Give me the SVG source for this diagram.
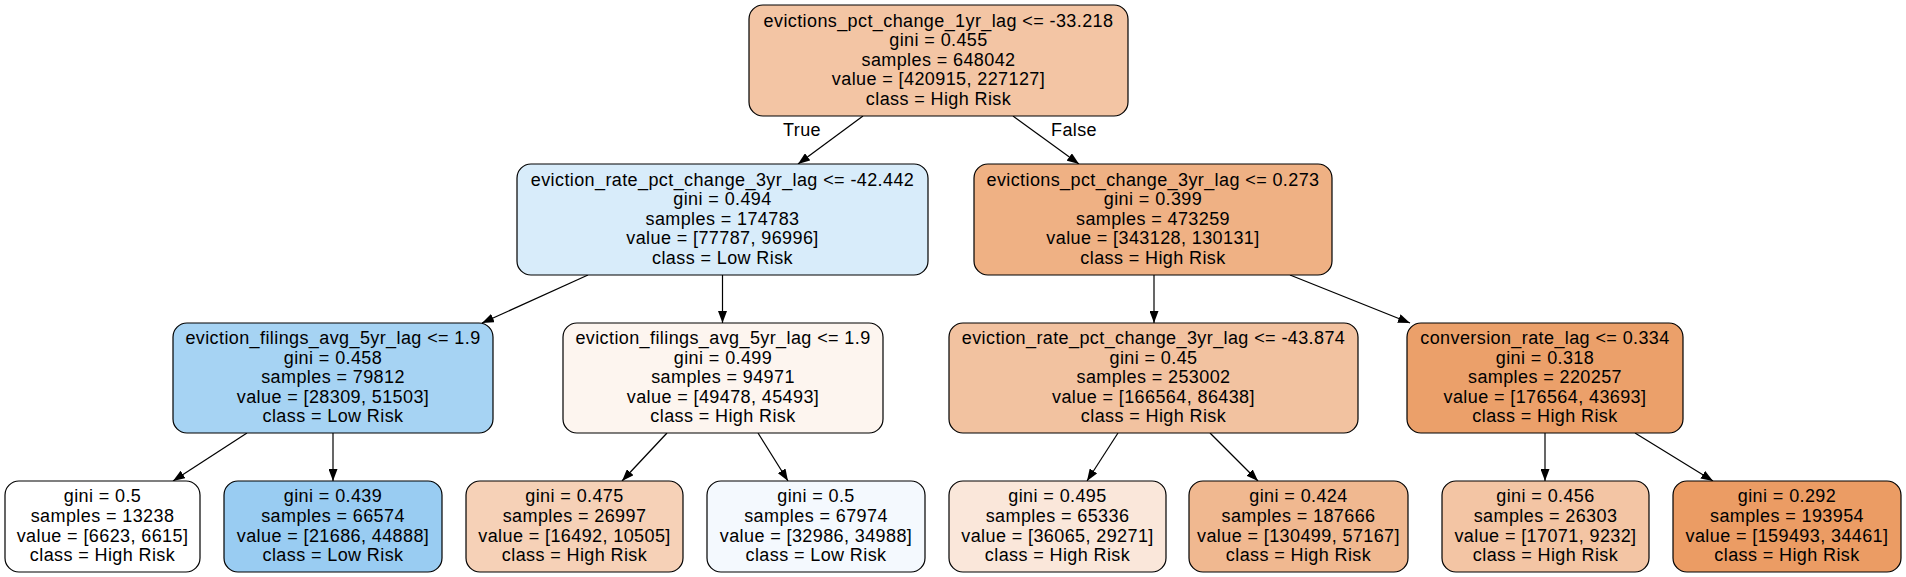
<svg xmlns="http://www.w3.org/2000/svg" width="1906" height="577" viewBox="0 0 1906 577">
<style>
  .box { stroke: #000; stroke-width: 1.2; }
  text { font-family: "Liberation Sans", Arial, sans-serif; font-size: 18px; letter-spacing: 0.4px; fill: #000; text-anchor: middle; }
  .edge { stroke: #000; stroke-width: 1.2; fill: none; marker-end: url(#arr); }
</style>
<defs>
  <marker id="arr" viewBox="0 0 12 9" refX="12" refY="4.5" markerWidth="12" markerHeight="9" orient="auto" markerUnits="userSpaceOnUse">
    <path d="M0,0 L12,4.5 L0,9 z" fill="#000"/>
  </marker>
</defs>
<rect width="1906" height="577" fill="#fff"/>

<g id="edges">
  <line class="edge" x1="863" y1="116" x2="798" y2="164"/>
  <line class="edge" x1="1013" y1="116" x2="1079" y2="164"/>
  <line class="edge" x1="588" y1="275" x2="482" y2="323"/>
  <line class="edge" x1="722.5" y1="275" x2="722.5" y2="323"/>
  <line class="edge" x1="1154" y1="275" x2="1154" y2="323"/>
  <line class="edge" x1="1290" y1="275" x2="1410" y2="323"/>
  <line class="edge" x1="247" y1="433" x2="173" y2="481"/>
  <line class="edge" x1="333" y1="433" x2="333" y2="481"/>
  <line class="edge" x1="667" y1="433" x2="622" y2="481"/>
  <line class="edge" x1="758" y1="433" x2="788" y2="481"/>
  <line class="edge" x1="1118" y1="433" x2="1087" y2="481"/>
  <line class="edge" x1="1210" y1="433" x2="1258" y2="481"/>
  <line class="edge" x1="1545" y1="433" x2="1545" y2="481"/>
  <line class="edge" x1="1635" y1="433" x2="1713" y2="481"/>
  <text x="802" y="136">True</text>
  <text x="1074" y="136">False</text>
</g>

<g id="n0">
  <rect class="box" x="749" y="5" width="379" height="111" rx="14" fill="#f3c5a4"/>
  <text x="938.5" y="26.5">evictions_pct_change_1yr_lag &lt;= -33.218</text>
  <text x="938.5" y="46.1">gini = 0.455</text>
  <text x="938.5" y="65.7">samples = 648042</text>
  <text x="938.5" y="85.3">value = [420915, 227127]</text>
  <text x="938.5" y="104.9">class = High Risk</text>
</g>

<g id="n1">
  <rect class="box" x="517" y="164" width="411" height="111" rx="14" fill="#d8ecfa"/>
  <text x="722.5" y="185.5">eviction_rate_pct_change_3yr_lag &lt;= -42.442</text>
  <text x="722.5" y="205.1">gini = 0.494</text>
  <text x="722.5" y="224.7">samples = 174783</text>
  <text x="722.5" y="244.3">value = [77787, 96996]</text>
  <text x="722.5" y="263.9">class = Low Risk</text>
</g>

<g id="n8">
  <rect class="box" x="974" y="164" width="358" height="111" rx="14" fill="#efb184"/>
  <text x="1153" y="185.5">evictions_pct_change_3yr_lag &lt;= 0.273</text>
  <text x="1153" y="205.1">gini = 0.399</text>
  <text x="1153" y="224.7">samples = 473259</text>
  <text x="1153" y="244.3">value = [343128, 130131]</text>
  <text x="1153" y="263.9">class = High Risk</text>
</g>

<g id="n2">
  <rect class="box" x="173" y="323" width="320" height="110" rx="14" fill="#a6d3f3"/>
  <text x="333" y="344">eviction_filings_avg_5yr_lag &lt;= 1.9</text>
  <text x="333" y="363.6">gini = 0.458</text>
  <text x="333" y="383.2">samples = 79812</text>
  <text x="333" y="402.8">value = [28309, 51503]</text>
  <text x="333" y="422.4">class = Low Risk</text>
</g>

<g id="n5">
  <rect class="box" x="563" y="323" width="320" height="110" rx="14" fill="#fdf5ef"/>
  <text x="723" y="344">eviction_filings_avg_5yr_lag &lt;= 1.9</text>
  <text x="723" y="363.6">gini = 0.499</text>
  <text x="723" y="383.2">samples = 94971</text>
  <text x="723" y="402.8">value = [49478, 45493]</text>
  <text x="723" y="422.4">class = High Risk</text>
</g>

<g id="n9">
  <rect class="box" x="949" y="323" width="409" height="110" rx="14" fill="#f2c2a0"/>
  <text x="1153.5" y="344">eviction_rate_pct_change_3yr_lag &lt;= -43.874</text>
  <text x="1153.5" y="363.6">gini = 0.45</text>
  <text x="1153.5" y="383.2">samples = 253002</text>
  <text x="1153.5" y="402.8">value = [166564, 86438]</text>
  <text x="1153.5" y="422.4">class = High Risk</text>
</g>

<g id="n12">
  <rect class="box" x="1407" y="323" width="276" height="110" rx="14" fill="#eba06a"/>
  <text x="1545" y="344">conversion_rate_lag &lt;= 0.334</text>
  <text x="1545" y="363.6">gini = 0.318</text>
  <text x="1545" y="383.2">samples = 220257</text>
  <text x="1545" y="402.8">value = [176564, 43693]</text>
  <text x="1545" y="422.4">class = High Risk</text>
</g>

<g id="n3">
  <rect class="box" x="5" y="481" width="195" height="91" rx="14" fill="#ffffff"/>
  <text x="102.5" y="502.3">gini = 0.5</text>
  <text x="102.5" y="521.9">samples = 13238</text>
  <text x="102.5" y="541.5">value = [6623, 6615]</text>
  <text x="102.5" y="561.1">class = High Risk</text>
</g>

<g id="n4">
  <rect class="box" x="224" y="481" width="218" height="91" rx="14" fill="#99ccf2"/>
  <text x="333" y="502.3">gini = 0.439</text>
  <text x="333" y="521.9">samples = 66574</text>
  <text x="333" y="541.5">value = [21686, 44888]</text>
  <text x="333" y="561.1">class = Low Risk</text>
</g>

<g id="n6">
  <rect class="box" x="466" y="481" width="217" height="91" rx="14" fill="#f6d1b7"/>
  <text x="574.5" y="502.3">gini = 0.475</text>
  <text x="574.5" y="521.9">samples = 26997</text>
  <text x="574.5" y="541.5">value = [16492, 10505]</text>
  <text x="574.5" y="561.1">class = High Risk</text>
</g>

<g id="n7">
  <rect class="box" x="707" y="481" width="218" height="91" rx="14" fill="#f4f9fe"/>
  <text x="816" y="502.3">gini = 0.5</text>
  <text x="816" y="521.9">samples = 67974</text>
  <text x="816" y="541.5">value = [32986, 34988]</text>
  <text x="816" y="561.1">class = Low Risk</text>
</g>

<g id="n10">
  <rect class="box" x="949" y="481" width="217" height="91" rx="14" fill="#fae7da"/>
  <text x="1057.5" y="502.3">gini = 0.495</text>
  <text x="1057.5" y="521.9">samples = 65336</text>
  <text x="1057.5" y="541.5">value = [36065, 29271]</text>
  <text x="1057.5" y="561.1">class = High Risk</text>
</g>

<g id="n11">
  <rect class="box" x="1189" y="481" width="219" height="91" rx="14" fill="#f0b890"/>
  <text x="1298.5" y="502.3">gini = 0.424</text>
  <text x="1298.5" y="521.9">samples = 187666</text>
  <text x="1298.5" y="541.5">value = [130499, 57167]</text>
  <text x="1298.5" y="561.1">class = High Risk</text>
</g>

<g id="n13">
  <rect class="box" x="1442" y="481" width="207" height="91" rx="14" fill="#f3c5a4"/>
  <text x="1545.5" y="502.3">gini = 0.456</text>
  <text x="1545.5" y="521.9">samples = 26303</text>
  <text x="1545.5" y="541.5">value = [17071, 9232]</text>
  <text x="1545.5" y="561.1">class = High Risk</text>
</g>

<g id="n14">
  <rect class="box" x="1673" y="481" width="228" height="91" rx="14" fill="#eb9c64"/>
  <text x="1787" y="502.3">gini = 0.292</text>
  <text x="1787" y="521.9">samples = 193954</text>
  <text x="1787" y="541.5">value = [159493, 34461]</text>
  <text x="1787" y="561.1">class = High Risk</text>
</g>
</svg>
